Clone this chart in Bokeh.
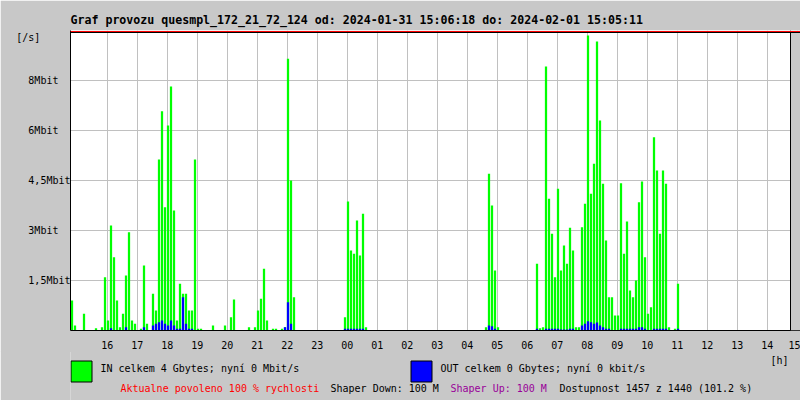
from bokeh.plotting import figure
from bokeh.layouts import column
from bokeh.models import ColumnDataSource, FixedTicker, Span, BoxAnnotation, Range1d
from bokeh.core.properties import value
from bokeh.embed import file_html
from bokeh.resources import INLINE
import numpy as np

# ---------------- data ----------------
TITLE = "Graf provozu quesmpl_172_21_72_124 od: 2024-01-31 15:06:18 do: 2024-02-01 15:05:11"
start_hour = 14 + 46.6 / 60      # left edge of the plot (hours)
bin_hours = 0.1                  # 6-minute samples

# IN traffic [Mbit/s], one value per 6 minutes (10 values = 1 hour per row)
in_mbit = [
    0.9, 0.15, 0, 0, 0.5, 0, 0, 0, 0.07, 0,
    0.1, 1.6, 0.3, 3.15, 2.2, 0.9, 0.1, 0.5, 1.65, 2.95,
    0.3, 0.2, 0, 0.05, 1.95, 0.2, 0, 1.1, 0.6, 5.13,
    6.58, 3.7, 6.15, 7.32, 3.6, 0.3, 1.4, 1.1, 1.1, 0.6,
    0.6, 5.13, 0.05, 0.05, 0, 0, 0, 0.15, 0, 0,
    0, 0.15, 0, 0.4, 0.93, 0, 0, 0, 0, 0.1,
    0, 0.1, 0.6, 0.95, 1.85, 0.3, 0, 0.05, 0.05, 0,
    0.05, 0.1, 8.15, 4.5, 1.0, 0, 0, 0, 0, 0,
    0, 0, 0, 0, 0, 0, 0, 0, 0, 0,
    0, 0.4, 3.87, 2.4, 2.3, 3.3, 2.25, 3.5, 0.1, 0,
    0, 0, 0, 0, 0, 0, 0, 0, 0, 0,
    0, 0, 0, 0, 0, 0, 0, 0, 0, 0,
    0, 0, 0, 0, 0, 0, 0, 0, 0, 0,
    0, 0, 0, 0, 0, 0, 0, 0, 0.1, 4.7,
    3.75, 1.8, 0.1, 0, 0, 0, 0, 0, 0, 0,
    0, 0, 0, 0, 0, 2.0, 0.07, 0.1, 7.92, 3.95,
    2.9, 1.6, 4.25, 1.8, 2.55, 2.0, 3.08, 2.4, 0.1, 0.1,
    3.1, 3.8, 8.85, 4.1, 5.0, 8.67, 6.3, 4.4, 2.7, 1.0,
    1.0, 0.45, 0.45, 4.42, 2.3, 3.27, 1.2, 1.0, 1.5, 3.85,
    4.47, 2.2, 0.5, 0.7, 5.8, 4.8, 2.9, 4.8, 4.4, 0.1,
    0, 0.05, 1.4, 0, 0, 0, 0, 0, 0, 0,
    0, 0, 0, 0, 0, 0, 0, 0, 0, 0,
    0, 0, 0, 0, 0, 0, 0, 0, 0, 0,
    0, 0, 0, 0, 0, 0, 0, 0, 0, 0,
]

# OUT traffic [Mbit/s]
out_mbit = [
    0, 0, 0, 0, 0, 0, 0, 0, 0, 0,
    0, 0, 0, 0.07, 0, 0, 0, 0, 0.1, 0,
    0, 0, 0, 0, 0.1, 0, 0, 0.15, 0.2, 0.25,
    0.3, 0.2, 0.15, 0.3, 0.15, 0.05, 0.05, 1.0, 0.2, 0.05,
    0.05, 0, 0, 0, 0, 0, 0, 0, 0, 0,
    0, 0, 0, 0, 0, 0, 0, 0, 0, 0,
    0, 0, 0, 0, 0, 0, 0, 0, 0, 0,
    0, 0.1, 0.85, 0.2, 0, 0, 0, 0, 0, 0,
    0, 0, 0, 0, 0, 0, 0, 0, 0, 0,
    0, 0.05, 0.05, 0.05, 0.05, 0.05, 0.05, 0.05, 0, 0,
    0, 0, 0, 0, 0, 0, 0, 0, 0, 0,
    0, 0, 0, 0, 0, 0, 0, 0, 0, 0,
    0, 0, 0, 0, 0, 0, 0, 0, 0, 0,
    0, 0, 0, 0, 0, 0, 0, 0, 0, 0.15,
    0.13, 0.05, 0, 0, 0, 0, 0, 0, 0, 0,
    0, 0, 0, 0, 0, 0.05, 0, 0, 0.05, 0.05,
    0.05, 0.05, 0.05, 0.03, 0.03, 0.03, 0.05, 0.05, 0, 0,
    0.15, 0.2, 0.28, 0.25, 0.2, 0.24, 0.15, 0.1, 0.05, 0.05,
    0, 0, 0, 0.05, 0.05, 0.05, 0.05, 0.05, 0.05, 0.1,
    0.1, 0.05, 0, 0, 0.05, 0.05, 0.05, 0.05, 0.05, 0,
    0, 0, 0.05, 0, 0, 0, 0, 0, 0, 0,
    0, 0, 0, 0, 0, 0, 0, 0, 0, 0,
    0, 0, 0, 0, 0, 0, 0, 0, 0, 0,
    0, 0, 0, 0, 0, 0, 0, 0, 0, 0,
]

hour_ticks = list(range(16, 40))
hour_labels = ["16", "17", "18", "19", "20", "21", "22", "23", "00", "01", "02", "03",
               "04", "05", "06", "07", "08", "09", "10", "11", "12", "13", "14", "15"]
rate_ticks = [1.5, 3, 4.5, 6, 7.5]
rate_labels = ["1,5Mbit", "3Mbit", "4,5Mbit", "6Mbit", "8Mbit"]
rate_max = 9
unit_y = "[/s]"
unit_x = "[h]"

in_text = "IN celkem 4 Gbytes; nyní 0 Mbit/s"
out_text = "OUT celkem 0 Gbytes; nyní 0 kbit/s"
info_texts = ["Aktualne povoleno 100 % rychlosti", "Shaper Down: 100 M",
              "Shaper Up: 100 M", "Dostupnost 1457 z 1440 (101.2 %)"]

# ---------------- styling / layout ----------------
GRAY = "#c8c8c8"
GRID = "#c0c0c0"
GREEN = "#00ff00"
BLUE = "#0000ff"
MONO = "DejaVu Sans Mono"
info_colors = ["#ff0000", "#000000", "#990099", "#000000"]

W = 800
H1, H2 = 352, 49
LEFT, TOP, BOTTOM = 70, 30, 22
px_per_hour = 30
view_hours = (W - LEFT) / px_per_hour
unit_y_pos = 8.8                 # where the "[/s]" caption sits on the y axis

times = start_hour + bin_hours * (np.arange(len(in_mbit)) + 0.5)
src = ColumnDataSource(dict(t=times, inv=in_mbit, outv=out_mbit))

p = figure(width=W, height=H1, output_backend="svg", toolbar_location=None,
           x_range=Range1d(start_hour, start_hour + view_hours),
           y_range=Range1d(0, rate_max),
           min_border_left=LEFT, min_border_right=0, min_border_top=TOP,
           min_border_bottom=BOTTOM, background_fill_color="white",
           border_fill_color=GRAY, outline_line_color=None, title=TITLE)

p.title.text_font = MONO
p.title.text_font_style = "bold"
p.title.text_font_size = "11.6px"
p.title.align = "left"
p.title.offset = 0
p.title.standoff = 7
p.title.text_color = "black"

# axes
p.xaxis.ticker = FixedTicker(ticks=hour_ticks)
p.xaxis.major_label_overrides = dict(zip(hour_ticks, hour_labels))
pad = max(len(s) for s in rate_labels)
ylab = {t: s + "\u00a0" * (pad - len(s)) for t, s in zip(rate_ticks, rate_labels)}
ylab[unit_y_pos] = unit_y + "\u00a0" * (pad + 2 - len(unit_y))
p.yaxis.ticker = FixedTicker(ticks=rate_ticks + [unit_y_pos])
p.yaxis.major_label_overrides = ylab
for ax in (p.xaxis, p.yaxis):
    ax.major_tick_line_color = None
    ax.minor_tick_line_color = None
    ax.major_tick_out = 0
    ax.major_tick_in = 0
    ax.axis_line_color = "black"
    ax.axis_line_width = 1
    ax.major_label_text_font = MONO
    ax.major_label_text_font_size = "10px"
    ax.major_label_text_color = "black"
p.xaxis.major_label_standoff = 10
p.yaxis.major_label_standoff = 0

p.xgrid.ticker = FixedTicker(ticks=hour_ticks)
p.ygrid.ticker = FixedTicker(ticks=rate_ticks)
p.xgrid.grid_line_color = GRID
p.ygrid.grid_line_color = GRID
p.xgrid.grid_line_width = 1
p.ygrid.grid_line_width = 1

# data bars
p.vbar(x="t", top="inv", width=0.075, source=src, fill_color=GREEN, line_color=None)
p.vbar(x="t", top="outv", width=0.075, source=src, fill_color=BLUE, line_color=None)

# area beyond the end of the 24 h window, borders
p.add_layout(BoxAnnotation(left=start_hour + 24, fill_color=GRAY, fill_alpha=1,
                           line_color=None))
p.add_layout(Span(location=start_hour + 24, dimension="height", line_color="black",
                  line_width=1))
one_px = rate_max / 300
p.add_layout(Span(location=rate_max - 2 * one_px, dimension="width", line_color="black",
                  line_width=1))
p.add_layout(Span(location=rate_max - one_px, dimension="width", line_color="red",
                  line_width=1))

# ---------------- legend / info strip (pixel coordinates, frame aligned at LEFT) ----------------
q = figure(width=W, height=H2, output_backend="svg", toolbar_location=None,
           x_range=Range1d(LEFT, W), y_range=Range1d(H2, 0),
           min_border_left=LEFT, min_border_right=0, min_border_top=0, min_border_bottom=0,
           x_axis_location=None, y_axis_location=None, margin=(-1, 0, 0, 0),
           background_fill_color=GRAY, border_fill_color=GRAY, outline_line_color=None)
q.xgrid.visible = False
q.ygrid.visible = False

box_src = ColumnDataSource(dict(l=[70.5, 410.5], r=[91.5, 431.5], t=[9.5, 9.5],
                                b=[30.5, 30.5], c=[GREEN, BLUE]))
q.quad(left="l", right="r", top="t", bottom="b", source=box_src, fill_color="c",
       line_color="black", line_width=1)

txt_src = ColumnDataSource(dict(
    x=[100, 440, 120, 330, 450, 559],
    y=[16.5, 16.5, 37, 37, 37, 37],
    s=[in_text, out_text] + info_texts,
    c=["#000000", "#000000"] + info_colors))
q.text(x="x", y="y", text="s", text_color="c", source=txt_src,
       text_font=value(MONO), text_font_size=value("10px"),
       text_baseline="middle", text_align="left")
q.text(x=[770], y=[9], text=[unit_x], text_font=value(MONO),
       text_font_size=value("10px"), text_baseline="alphabetic", text_align="left",
       text_color="black")

layout = column(p, q, spacing=0)
open("out.html", "w").write(file_html(layout, INLINE))
